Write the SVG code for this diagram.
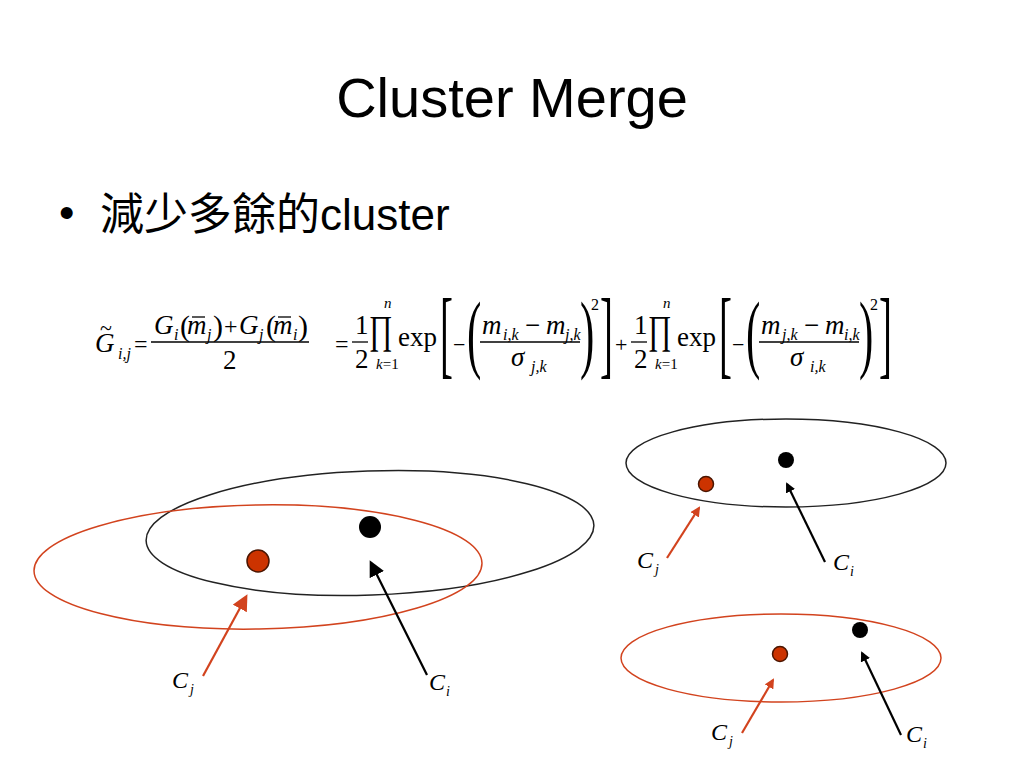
<svg xmlns="http://www.w3.org/2000/svg" width="1024" height="768" viewBox="0 0 1024 768">
<defs>
<style>
.title{font-family:"Liberation Sans",Arial,sans-serif;font-size:56px;fill:#000}
.bul{font-family:"Liberation Sans","Noto Sans CJK TC",sans-serif;font-size:44px;fill:#000}
.f{font-family:"Liberation Serif","Times New Roman",serif;fill:#000}
.fi{font-family:"Liberation Serif","Times New Roman",serif;font-style:italic;fill:#000}
.lab{font-family:"Liberation Serif","Times New Roman",serif;font-size:24px;font-style:italic;fill:#000}
.labs{font-family:"Liberation Serif","Times New Roman",serif;font-size:14px;font-style:italic;fill:#000}
.bar{stroke:#000;stroke-width:1.3}
.ellB{fill:none;stroke:#222;stroke-width:1.5}
.ellR{fill:none;stroke:#d2431e;stroke-width:1.5}
.dotR{fill:#cc3300;stroke:#4a1500;stroke-width:1.5}
.dotB{fill:#000}
.arrR{stroke:#d2431e;stroke-width:2.2;fill:none}
.arrB{stroke:#000;stroke-width:2.2;fill:none}
</style>
<marker id="hR" markerWidth="10" markerHeight="10" refX="8" refY="5" orient="auto" markerUnits="userSpaceOnUse" viewBox="0 0 10 10">
<path d="M0,0 L10,5 L0,10 Z" fill="#d2431e"/>
</marker>
<marker id="hB" markerWidth="10" markerHeight="10" refX="8" refY="5" orient="auto" markerUnits="userSpaceOnUse" viewBox="0 0 10 10">
<path d="M0,0 L10,5 L0,10 Z" fill="#000"/>
</marker>
<marker id="hR2" markerWidth="16" markerHeight="16" refX="13" refY="8" orient="auto" markerUnits="userSpaceOnUse" viewBox="0 0 16 16">
<path d="M0,0 L16,8 L0,16 Z" fill="#d2431e"/>
</marker>
<marker id="hB2" markerWidth="16" markerHeight="16" refX="13" refY="8" orient="auto" markerUnits="userSpaceOnUse" viewBox="0 0 16 16">
<path d="M0,0 L16,8 L0,16 Z" fill="#000"/>
</marker>
</defs>
<rect width="1024" height="768" fill="#fff"/>

<g id="title"><text class="title" x="512" y="117" text-anchor="middle">Cluster Merge</text></g>

<g id="bullet"><text class="bul" x="59" y="228">•</text>
<text class="bul" x="100" y="230"><tspan font-family="'Noto Sans CJK TC','Noto Sans CJK SC',sans-serif">減少多餘的</tspan>cluster</text></g>

<g id="formula">
<!-- left-hand side -->
<text class="fi" x="95" y="352" font-size="27">G</text>
<text class="f" x="100" y="335" font-size="22">~</text>
<text class="fi" x="118" y="359" font-size="16">i,j</text>
<text class="f" x="134" y="352" font-size="24">=</text>
<!-- first fraction -->
<text class="fi" x="154" y="334" font-size="27">G</text>
<text class="fi" x="174" y="340" font-size="16">i</text>
<text class="f" x="180" y="336" font-size="30">(</text>
<text class="fi" x="187" y="334" font-size="27">m</text>
<line class="bar" x1="192" y1="317" x2="205" y2="317"/>
<text class="fi" x="207" y="340" font-size="16">j</text>
<text class="f" x="213" y="336" font-size="30">)</text>
<text class="f" x="224" y="334" font-size="24">+</text>
<text class="fi" x="239" y="334" font-size="27">G</text>
<text class="fi" x="259" y="340" font-size="16">j</text>
<text class="f" x="266" y="336" font-size="30">(</text>
<text class="fi" x="273" y="334" font-size="27">m</text>
<line class="bar" x1="278" y1="317" x2="291" y2="317"/>
<text class="fi" x="293" y="340" font-size="16">i</text>
<text class="f" x="298" y="336" font-size="30">)</text>
<line class="bar" x1="151" y1="342" x2="309" y2="342"/>
<text class="f" x="223" y="369" font-size="27">2</text>

<text class="f" x="335" y="352" font-size="24">=</text>
<text class="f" x="615" y="352" font-size="22">+</text>

<g id="term1">
<text class="f" x="355" y="334" font-size="27">1</text>
<line class="bar" x1="352" y1="342" x2="368" y2="342"/>
<text class="f" x="355" y="368" font-size="27">2</text>
<text class="f" x="369" y="343" font-size="40" transform="translate(369 0) scale(0.72 1) translate(-369 0)">∏</text>
<text class="fi" x="384" y="308" font-size="15">n</text>
<text class="fi" x="376" y="369" font-size="15">k<tspan font-style="normal">=1</tspan></text>
<text class="f" x="398" y="346" font-size="27">exp</text>
<text class="f" x="440" y="366" font-size="97" transform="translate(440 0) scale(0.4 1) translate(-440 0)">[</text>
<text class="f" x="453" y="352" font-size="22">−</text>
<text class="f" x="467" y="362" font-size="86" transform="translate(467 0) scale(0.5 1) translate(-467 0)">(</text>
<text class="fi" x="482" y="334" font-size="27">m</text>
<text class="fi" x="503" y="340" font-size="16">i,k</text>
<text class="f" x="525" y="334" font-size="27">−</text>
<text class="fi" x="546" y="334" font-size="27">m</text>
<text class="fi" x="565" y="340" font-size="16">j,k</text>
<line class="bar" x1="480" y1="342" x2="580" y2="342"/>
<text class="fi" x="511" y="366" font-size="27">σ</text>
<text class="fi" x="531" y="372" font-size="16">j,k</text>
<text class="f" x="580" y="362" font-size="86" transform="translate(580 0) scale(0.5 1) translate(-580 0)">)</text>
<text class="f" x="591" y="310" font-size="16">2</text>
<text class="f" x="600" y="366" font-size="97" transform="translate(600 0) scale(0.4 1) translate(-600 0)">]</text>
</g>

<g id="term2">
<text class="f" x="634" y="334" font-size="27">1</text>
<line class="bar" x1="631" y1="342" x2="647" y2="342"/>
<text class="f" x="634" y="368" font-size="27">2</text>
<text class="f" x="648" y="343" font-size="40" transform="translate(648 0) scale(0.72 1) translate(-648 0)">∏</text>
<text class="fi" x="663" y="308" font-size="15">n</text>
<text class="fi" x="655" y="369" font-size="15">k<tspan font-style="normal">=1</tspan></text>
<text class="f" x="677" y="346" font-size="27">exp</text>
<text class="f" x="719" y="366" font-size="97" transform="translate(719 0) scale(0.4 1) translate(-719 0)">[</text>
<text class="f" x="732" y="352" font-size="22">−</text>
<text class="f" x="746" y="362" font-size="86" transform="translate(746 0) scale(0.5 1) translate(-746 0)">(</text>
<text class="fi" x="761" y="334" font-size="27">m</text>
<text class="fi" x="782" y="340" font-size="16">j,k</text>
<text class="f" x="804" y="334" font-size="27">−</text>
<text class="fi" x="825" y="334" font-size="27">m</text>
<text class="fi" x="844" y="340" font-size="16">i,k</text>
<line class="bar" x1="759" y1="342" x2="859" y2="342"/>
<text class="fi" x="790" y="366" font-size="27">σ</text>
<text class="fi" x="810" y="372" font-size="16">i,k</text>
<text class="f" x="859" y="362" font-size="86" transform="translate(859 0) scale(0.5 1) translate(-859 0)">)</text>
<text class="f" x="870" y="310" font-size="16">2</text>
<text class="f" x="879" y="366" font-size="97" transform="translate(879 0) scale(0.4 1) translate(-879 0)">]</text>
</g>
</g>

<g id="left-black-cluster"><ellipse class="ellB" cx="370" cy="533" rx="224" ry="62" transform="rotate(-2 370 533)"/><circle class="dotB" cx="370" cy="527" r="11"/></g>
<g id="left-red-cluster"><ellipse class="ellR" cx="258" cy="567" rx="224" ry="62" transform="rotate(-1 258 567)"/><circle class="dotR" cx="258" cy="561" r="11"/></g>
<g id="tr-black-cluster"><ellipse class="ellB" cx="786" cy="463" rx="160" ry="44"/><circle class="dotR" cx="706" cy="484" r="7.5"/><circle class="dotB" cx="786" cy="460" r="8"/></g>
<g id="br-red-cluster"><ellipse class="ellR" cx="781" cy="658" rx="160" ry="44"/><circle class="dotR" cx="780" cy="654" r="7.5"/><circle class="dotB" cx="860" cy="630" r="8"/></g>

<g id="connectors">
<line class="arrR" x1="203" y1="676" x2="246" y2="597" marker-end="url(#hR2)"/>
<line class="arrB" x1="427" y1="675" x2="371" y2="563" marker-end="url(#hB2)"/>
<line class="arrR" x1="667" y1="558" x2="699" y2="508" marker-end="url(#hR)"/>
<line class="arrB" x1="825" y1="562" x2="787" y2="484" marker-end="url(#hB)"/>
<line class="arrR" x1="742" y1="733" x2="773" y2="680" marker-end="url(#hR)"/>
<line class="arrB" x1="901" y1="735" x2="862" y2="653" marker-end="url(#hB)"/>
</g>

<g id="labels">
<text class="lab" x="172" y="688">C<tspan class="labs" dx="2" dy="6">j</tspan></text>
<text class="lab" x="429" y="690">C<tspan class="labs" dx="1" dy="6">i</tspan></text>
<text class="lab" x="637" y="568">C<tspan class="labs" dx="2" dy="6">j</tspan></text>
<text class="lab" x="833" y="570">C<tspan class="labs" dx="1" dy="6">i</tspan></text>
<text class="lab" x="711" y="740">C<tspan class="labs" dx="2" dy="6">j</tspan></text>
<text class="lab" x="906" y="742">C<tspan class="labs" dx="1" dy="6">i</tspan></text>
</g>
</svg>
